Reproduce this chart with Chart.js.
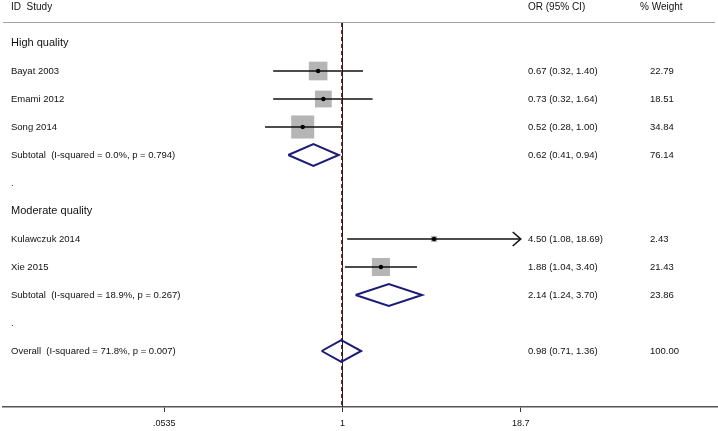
<!DOCTYPE html>
<html>
<head>
<meta charset="utf-8">
<script src="https://cdn.jsdelivr.net/npm/chart.js@4"></script>
<style>
  html, body { margin: 0; padding: 0; background: #fff; }
  #wrap { width: 718px; height: 431px; }
</style>
</head>
<body>
<div id="wrap"><canvas id="forest" width="718" height="431"></canvas></div>
<script>
// rows, top to bottom
const rowLabels = [
  'High quality', 'Bayat 2003', 'Emami 2012', 'Song 2014',
  'Subtotal  (I-squared = 0.0%, p = 0.794)', '.',
  'Moderate quality', 'Kulawczuk 2014', 'Xie 2015',
  'Subtotal  (I-squared = 18.9%, p = 0.267)', '.',
  'Overall  (I-squared = 71.8%, p = 0.007)'
];
const rowType = ['group', 'study', 'study', 'study', 'sub', 'blank',
                 'group', 'study', 'study', 'sub', 'blank', 'overall'];
const orEst   = [null, 0.67, 0.73, 0.52, 0.62, null, null, 4.50, 1.88, 2.14, null, 0.98];
const ciLow   = [null, 0.32, 0.32, 0.28, 0.41, null, null, 1.08, 1.04, 1.24, null, 0.71];
const ciHigh  = [null, 1.40, 1.64, 1.00, 0.94, null, null, 18.69, 3.40, 3.70, null, 1.36];
const weights = [null, 22.79, 18.51, 34.84, 76.14, null, null, 2.43, 21.43, 23.86, null, 100.00];

const tickVals   = [0.0535, 1, 18.7];
const tickLabels = ['.0535', '1', '18.7'];

const FONT = '"Liberation Sans", Arial, sans-serif';
const NAVY = '#1c1c78';

const studyRows = rowType.map((t, i) => t === 'study' ? i : -1).filter(i => i >= 0);
const poolRows  = rowType.map((t, i) => (t === 'sub' || t === 'overall') ? i : -1).filter(i => i >= 0);

const datasets = [];

// weight boxes
datasets.push({
  type: 'scatter',
  data: studyRows.map(i => ({ x: orEst[i], y: i })),
  pointStyle: 'rect',
  pointRadius: studyRows.map(i => 2.76 * Math.sqrt(weights[i])),
  backgroundColor: '#b5b5b5',
  borderWidth: 0,
  order: 3
});

// CI lines
studyRows.forEach(i => {
  datasets.push({
    type: 'line',
    data: [{ x: ciLow[i], y: i }, { x: ciHigh[i], y: i }],
    borderColor: '#111',
    borderWidth: 1.6,
    pointRadius: 0,
    order: 2
  });
});

// point estimates
datasets.push({
  type: 'scatter',
  data: studyRows.map(i => ({ x: orEst[i], y: i })),
  pointRadius: 2.2,
  backgroundColor: '#000',
  borderWidth: 0,
  order: 1
});

// pooled diamonds
const halfH = 0.39;
poolRows.forEach(i => {
  datasets.push({
    type: 'line',
    data: [
      { x: ciLow[i], y: i }, { x: orEst[i], y: i - halfH },
      { x: ciHigh[i], y: i }, { x: orEst[i], y: i + halfH },
      { x: ciLow[i], y: i }
    ],
    borderColor: NAVY,
    borderWidth: 2,
    pointRadius: 0,
    tension: 0,
    order: 1
  });
});

const forestPlugin = {
  id: 'forestExtras',
  beforeDatasetsDraw(chart) {
    const { ctx, scales: { x }, chartArea } = chart;
    const x1 = Math.floor(x.getPixelForValue(1)) + 0.5;
    const xo = Math.floor(x.getPixelForValue(orEst[11])) + 0.5;
    ctx.save();
    // header rule
    ctx.strokeStyle = '#a0a0a0';
    ctx.lineWidth = 1;
    ctx.beginPath();
    ctx.moveTo(3, 22.5);
    ctx.lineTo(715, 22.5);
    ctx.stroke();
    // null line
    ctx.strokeStyle = '#222';
    ctx.beginPath();
    ctx.moveTo(x1, 23);
    ctx.lineTo(x1, chartArea.bottom);
    ctx.stroke();
    // overall effect line
    ctx.strokeStyle = '#8c2222';
    ctx.setLineDash([4, 3]);
    ctx.beginPath();
    ctx.moveTo(xo, 23);
    ctx.lineTo(xo, chartArea.bottom);
    ctx.stroke();
    ctx.restore();
  },
  afterDatasetsDraw(chart) {
    const { ctx, scales: { x, y } } = chart;
    ctx.save();
    // arrows for clipped CIs
    ctx.strokeStyle = '#111';
    ctx.lineWidth = 1.6;
    studyRows.forEach(i => {
      if (ciHigh[i] >= tickVals[2] * 0.995) {
        const tx = x.getPixelForValue(ciHigh[i]);
        const ty = y.getPixelForValue(i);
        ctx.beginPath();
        ctx.moveTo(tx - 8, ty - 7);
        ctx.lineTo(tx, ty);
        ctx.lineTo(tx - 8, ty + 7);
        ctx.stroke();
      }
    });

    // texts
    ctx.textBaseline = 'middle';
    ctx.fillStyle = '#111';
    ctx.font = '10px ' + FONT;
    ctx.fillText('ID  Study', 11, 7);
    ctx.fillText('OR (95% CI)', 528, 7);
    ctx.fillText('% Weight', 640, 7);

    rowLabels.forEach((lab, i) => {
      const py = y.getPixelForValue(i);
      ctx.font = (rowType[i] === 'group' ? '11px ' : '9.5px ') + FONT;
      ctx.fillStyle = '#111';
      ctx.fillText(lab, 11, py);
      if (orEst[i] !== null) {
        ctx.font = '9.5px ' + FONT;
        ctx.fillText(`${orEst[i].toFixed(2)} (${ciLow[i].toFixed(2)}, ${ciHigh[i].toFixed(2)})`, 528, py);
        ctx.fillText(weights[i].toFixed(2), 650, py);
      }
    });
    ctx.restore();
  }
};

new Chart(document.getElementById('forest'), {
  type: 'scatter',
  data: { datasets },
  options: {
    responsive: false,
    animation: false,
    devicePixelRatio: 1,
    layout: { autoPadding: false, padding: { left: 3, right: 1, top: 0, bottom: 0 } },
    plugins: { legend: { display: false }, tooltip: { enabled: false } },
    scales: {
      x: {
        type: 'logarithmic',
        min: 0.00378,
        max: 470,
        afterFit: (s) => { s.height = 24; },
        afterBuildTicks: (s) => { s.ticks = tickVals.map(v => ({ value: v })); },
        grid: { display: true, drawOnChartArea: false, drawTicks: true, tickLength: 5, tickColor: '#333', tickWidth: 1 },
        border: { display: true, color: '#555', width: 1.5 },
        ticks: {
          autoSkip: false,
          maxRotation: 0,
          padding: 6,
          color: '#111',
          font: { family: FONT, size: 9 },
          callback: (v, idx) => tickLabels[idx]
        }
      },
      y: {
        type: 'linear',
        display: false,
        reverse: true,
        min: -1.536,
        max: 13
      }
    }
  },
  plugins: [forestPlugin]
});
</script>
</body>
</html>
